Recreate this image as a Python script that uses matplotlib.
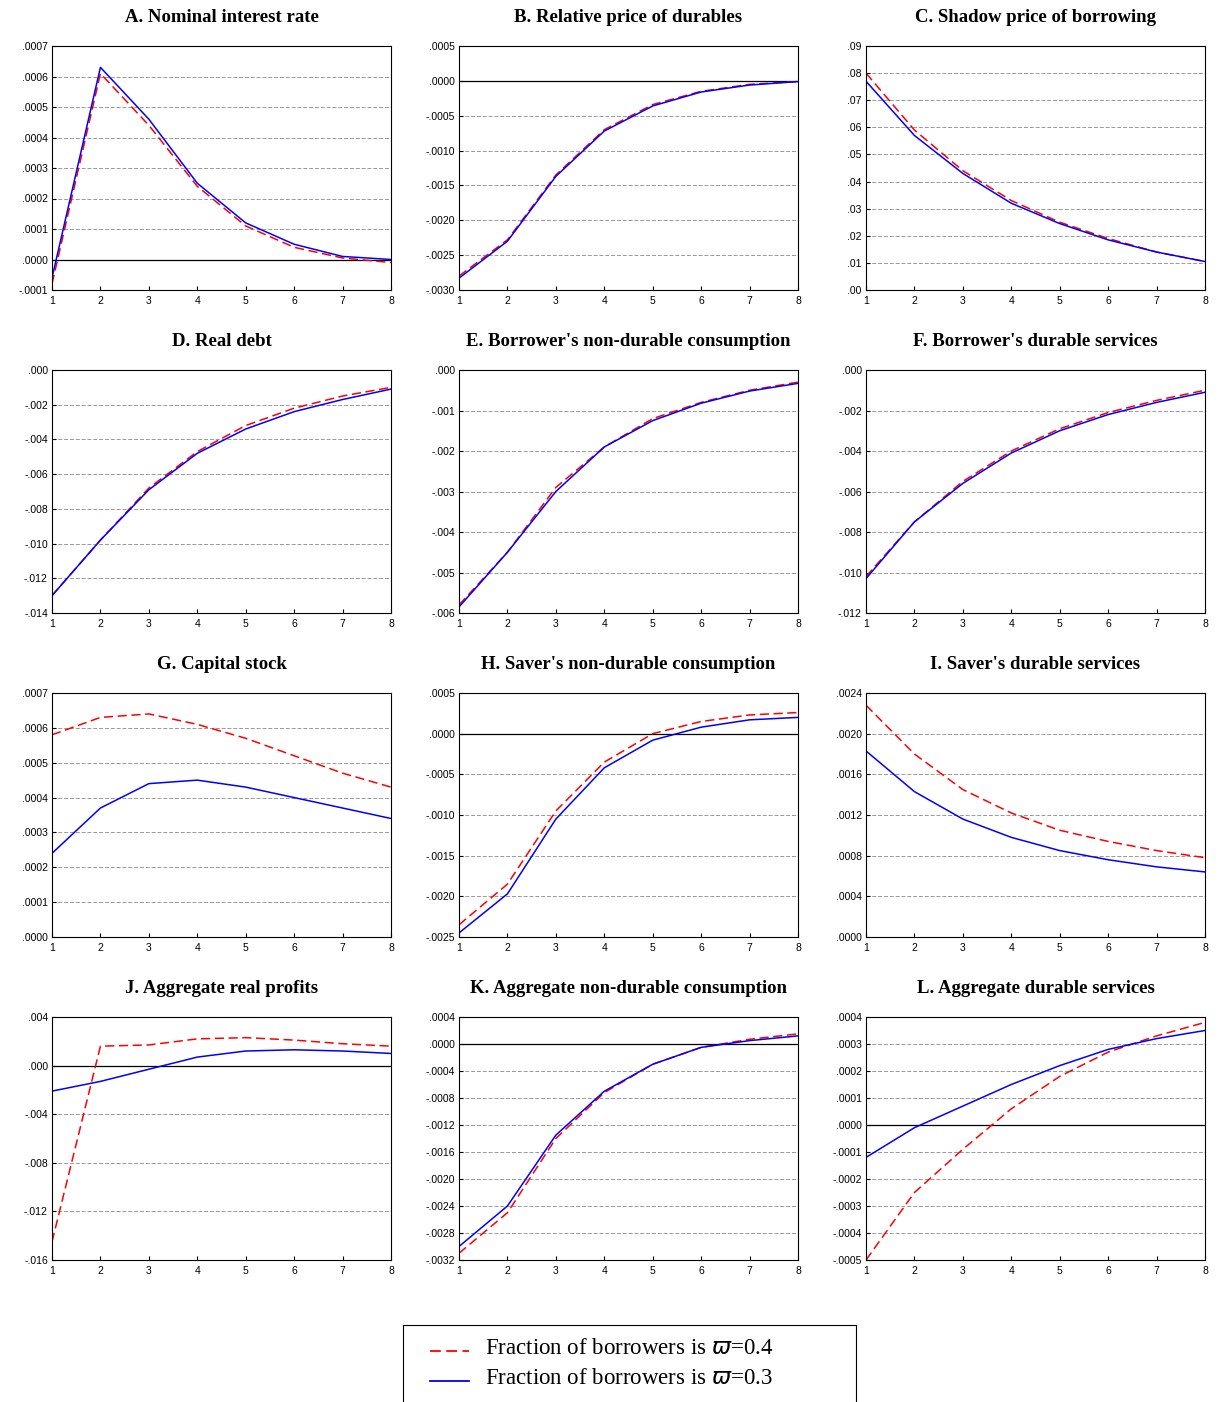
import matplotlib
matplotlib.use("Agg")
import matplotlib.pyplot as plt
from matplotlib.ticker import FuncFormatter, MultipleLocator

x = [1, 2, 3, 4, 5, 6, 7, 8]
titles = ["A. Nominal interest rate", "B. Relative price of durables", "C. Shadow price of borrowing",
          "D. Real debt", "E. Borrower's non-durable consumption", "F. Borrower's durable services",
          "G. Capital stock", "H. Saver's non-durable consumption", "I. Saver's durable services",
          "J. Aggregate real profits", "K. Aggregate non-durable consumption", "L. Aggregate durable services"]
red = [
    [-0.00008, 0.00061, 0.00044, 0.00024, 0.00011, 0.00004, 0.000005, -0.00001],
    [-0.0028, -0.00228, -0.00135, -0.0007, -0.00034, -0.00015, -0.00005, -0.00001],
    [0.080, 0.059, 0.044, 0.033, 0.025, 0.019, 0.014, 0.0105],
    [-0.013, -0.0098, -0.0068, -0.0047, -0.0032, -0.0022, -0.0015, -0.0010],
    [-0.0058, -0.0045, -0.0029, -0.0019, -0.0012, -0.0008, -0.0005, -0.0003],
    [-0.0102, -0.0075, -0.0055, -0.0040, -0.0029, -0.0021, -0.0015, -0.0010],
    [0.00058, 0.00063, 0.00064, 0.00061, 0.00057, 0.00052, 0.00047, 0.00043],
    [-0.00235, -0.00185, -0.00095, -0.00035, 0.0, 0.00015, 0.00023, 0.00026],
    [0.00228, 0.0018, 0.00145, 0.00122, 0.00105, 0.00094, 0.00085, 0.00078],
    [-0.0145, 0.0016, 0.0017, 0.0022, 0.0023, 0.0021, 0.0018, 0.0016],
    [-0.0031, -0.0025, -0.0014, -0.00072, -0.0003, -0.00005, 0.00007, 0.00015],
    [-0.0005, -0.00025, -0.00009, 0.00006, 0.00018, 0.00027, 0.00033, 0.00038],
]
blue = [
    [-0.00006, 0.00063, 0.00046, 0.00025, 0.00012, 0.00005, 0.00001, 0.0],
    [-0.00283, -0.0023, -0.00137, -0.00072, -0.00036, -0.00016, -0.00006, -0.00001],
    [0.077, 0.057, 0.043, 0.032, 0.0245, 0.0185, 0.014, 0.0105],
    [-0.013, -0.0098, -0.0069, -0.0048, -0.0034, -0.0024, -0.0017, -0.0011],
    [-0.00585, -0.0045, -0.003, -0.0019, -0.00125, -0.00082, -0.00052, -0.00033],
    [-0.0103, -0.0075, -0.0056, -0.0041, -0.0030, -0.0022, -0.0016, -0.0011],
    [0.00024, 0.00037, 0.00044, 0.00045, 0.00043, 0.00040, 0.00037, 0.00034],
    [-0.00245, -0.00197, -0.00105, -0.00042, -0.00008, 0.00008, 0.00017, 0.0002],
    [0.00183, 0.00143, 0.00116, 0.00098, 0.00085, 0.00076, 0.00069, 0.00064],
    [-0.0021, -0.0013, -0.0003, 0.0007, 0.0012, 0.0013, 0.0012, 0.0010],
    [-0.0030, -0.0024, -0.00135, -0.0007, -0.0003, -0.00005, 0.00005, 0.00012],
    [-0.00012, -0.00001, 0.00007, 0.00015, 0.00022, 0.00028, 0.00032, 0.00035],
]
ylims = [(-0.0001, 0.0007), (-0.003, 0.0005), (0, 0.09), (-0.014, 0), (-0.006, 0), (-0.012, 0),
         (0, 0.0007), (-0.0025, 0.0005), (0, 0.0024), (-0.016, 0.004), (-0.0032, 0.0004), (-0.0005, 0.0004)]
steps = [0.0001, 0.0005, 0.01, 0.002, 0.001, 0.002, 0.0001, 0.0005, 0.0004, 0.004, 0.0004, 0.0001]
decs = [4, 4, 2, 3, 3, 3, 4, 4, 4, 3, 4, 4]
legend_labels = [r"Fraction of borrowers is $\varpi$=0.4", r"Fraction of borrowers is $\varpi$=0.3"]

W, H = 1218, 1402
fig = plt.figure(figsize=(W/100, H/100), dpi=100)
cols = [(52, 391), (459, 798), (866, 1205)]
rows = [(46, 290), (370, 613), (693, 937), (1017, 1260)]

def fmt(d):
    def f(v, p):
        if abs(v) < 1e-12:
            v = 0.0
        s = f"{v:.{d}f}"
        s = s.replace("0.", ".", 1) if s.startswith("0.") else s.replace("-0.", "-.", 1)
        return s
    return FuncFormatter(f)

for i in range(12):
    r, c = divmod(i, 3)
    x0, x1 = cols[c]; y0, y1 = rows[r]
    ax = fig.add_axes([x0/W, 1 - y1/H, (x1-x0)/W, (y1-y0)/H])
    lo, hi = ylims[i]
    ax.set_xlim(1, 8); ax.set_ylim(lo, hi)
    ax.yaxis.set_major_locator(MultipleLocator(steps[i]))
    ax.yaxis.set_major_formatter(fmt(decs[i]))
    ax.set_xticks(x)
    ax.grid(axis='y', linestyle=(0, (4, 2)), color='#999999', linewidth=0.7)
    if lo < 0 < hi:
        ax.axhline(0, color='black', linewidth=0.9)
    ax.plot(x, red[i], color='red', linestyle=(0, (6, 3)), linewidth=1.1)
    ax.plot(x, blue[i], color='blue', linewidth=1.1)
    ax.tick_params(labelsize=7.5, length=3, direction='in')
    ax.tick_params(axis='y', pad=3)
    ax.tick_params(axis='x', pad=4)
    for t in ax.get_yticklabels() + ax.get_xticklabels():
        t.set_family('Liberation Sans')
    ax.set_title(titles[i], fontsize=13.5, fontweight='bold', family='Liberation Serif', pad=17)

lax = fig.add_axes([403/W, 0, (856-403)/W, (1402-1325)/H])
lax.set_xticks([]); lax.set_yticks([])
lax.spines['bottom'].set_visible(False)
lax.set_xlim(0, 1); lax.set_ylim(0, 1)
lax.plot([0.06, 0.145], [0.66, 0.66], color='red', linestyle=(0, (6, 3)), linewidth=1.3)
lax.plot([0.06, 0.145], [0.27, 0.27], color='blue', linewidth=1.3)
lax.text(0.18, 0.7, legend_labels[0], fontsize=16.5, family='Liberation Serif', va='center')
lax.text(0.18, 0.31, legend_labels[1], fontsize=16.5, family='Liberation Serif', va='center')
fig.savefig("out.png", dpi=100)
